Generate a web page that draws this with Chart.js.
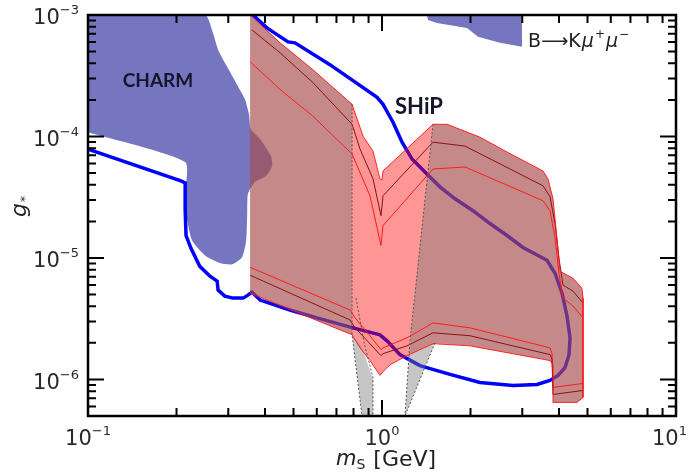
<!DOCTYPE html>
<html>
<head>
<meta charset="utf-8">
<script src="https://cdn.jsdelivr.net/npm/chart.js@4.4.1/dist/chart.umd.min.js"></script>
<style>
  html, body { margin: 0; padding: 0; background: #fff; }
  canvas { display: block; }
</style>
</head>
<body>
<canvas id="reach" width="689" height="473"></canvas>
<script>
// axis ticks (decades), labelled as 10^exp
const xTicks = [0.1, 1, 10];
const xTickExp = ['−1', '0', '1'];
const yTicks = [1e-6, 1e-5, 1e-4, 1e-3];
const yTickExp = ['−6', '−5', '−4', '−3'];

// CHARM excluded region
const charmMass = [0.100, 0.250, 0.266, 0.277, 0.297, 0.321, 0.342, 0.353, 0.358, 0.385, 0.419, 0.423, 0.403, 0.370, 0.350, 0.348, 0.345, 0.334, 0.309, 0.283, 0.250, 0.226, 0.217, 0.214, 0.214, 0.100];
const charmG = [1.0e-3, 1.0e-3, 7.13e-4, 5.18e-4, 3.76e-4, 2.68e-4, 2.02e-4, 1.52e-4, 1.15e-4, 9.5e-5, 6.9e-5, 5.72e-5, 4.73e-5, 4.23e-5, 3.37e-5, 2.32e-5, 1.37e-5, 1.01e-5, 8.87e-6, 9.04e-6, 1.05e-5, 1.39e-5, 2.11e-5, 3.37e-5, 6.16e-5, 1.084e-4];

// B -> K mu mu excluded region
const bkMass = [1.422, 1.434, 1.538, 1.946, 2.121, 2.520, 2.994, 2.994];
const bkG = [1.0e-3, 9.1e-4, 8.6e-4, 7.83e-4, 6.61e-4, 5.9e-4, 5.47e-4, 1.0e-3];

// SHiP sensitivity contour
const shipMass = [0.100, 0.207, 0.214, 0.214, 0.2155, 0.224, 0.240, 0.260, 0.275, 0.277, 0.292, 0.311, 0.337, 0.350, 0.361, 0.385, 0.486, 0.601, 0.797, 0.984, 1.040, 1.151, 1.346, 1.703, 2.154, 2.790, 3.367, 3.728, 3.968, 4.193, 4.325, 4.361, 4.258, 4.096, 3.877, 3.641, 3.017, 2.662, 2.330, 2.039, 1.771, 1.574, 1.422, 1.265, 1.170, 1.090, 1.008, 0.962, 0.665, 0.506, 0.479, 0.406, 0.364];
const shipG = [7.87e-5, 4.31e-5, 4.15e-5, 2.54e-5, 1.53e-5, 1.20e-5, 8.53e-6, 7.07e-6, 6.44e-6, 5.43e-6, 4.85e-6, 4.67e-6, 4.67e-6, 4.94e-6, 5.24e-6, 4.50e-6, 3.73e-6, 3.21e-6, 2.66e-6, 2.33e-6, 2.08e-6, 1.60e-6, 1.30e-6, 1.10e-6, 9.43e-7, 8.91e-7, 9.08e-7, 9.80e-7, 1.08e-6, 1.25e-6, 1.60e-6, 2.20e-6, 3.33e-6, 5.13e-6, 7.48e-6, 9.56e-6, 1.22e-5, 1.53e-5, 1.92e-5, 2.45e-5, 3.07e-5, 3.85e-5, 4.92e-5, 6.52e-5, 8.98e-5, 1.31e-4, 1.84e-4, 2.10e-4, 3.90e-4, 5.90e-4, 6.01e-4, 7.83e-4, 1.0e-3];

// uncertainty band: outer edges
const topEdgeMass = [0.356, 0.450, 0.582, 0.791, 0.862, 0.932, 0.984, 1.000, 1.008, 1.491, 1.664, 2.154, 2.662, 3.528, 3.670, 3.816, 3.937, 4.031, 4.464, 4.786, 4.828, 4.828, 4.603, 3.816, 3.816];
const topEdgeG = [1.0e-3, 5.9e-4, 3.55e-4, 1.84e-4, 1.006e-4, 7.58e-5, 4.48e-5, 4.40e-5, 5.20e-5, 1.26e-4, 1.26e-4, 9.87e-5, 7.45e-5, 5.20e-5, 4.48e-5, 3.07e-5, 1.45e-5, 7.77e-6, 6.81e-6, 5.64e-6, 4.67e-6, 7.11e-7, 6.47e-7, 6.47e-7, 1.32e-6];
const lowEdgeMass = [0.356, 0.791, 0.842, 0.910, 0.984, 1.008, 1.065, 1.216, 1.491, 1.992, 3.728, 3.816];
const lowEdgeG = [5.13e-6, 2.33e-6, 1.82e-6, 1.43e-6, 1.08e-6, 1.16e-6, 1.32e-6, 1.57e-6, 1.97e-6, 1.89e-6, 1.43e-6, 1.32e-6];

// band: central and inner curves
const topMidMass = [0.361, 0.450, 0.582, 0.791, 0.842, 0.932, 0.992, 1.008, 1.491, 1.916, 3.528, 3.728, 3.877, 4.0, 4.127, 4.464, 4.828];
const topMidG = [7.54e-4, 4.89e-4, 2.78e-4, 1.26e-4, 7.87e-5, 4.48e-5, 2.23e-5, 3.25e-5, 8.98e-5, 8.33e-5, 3.93e-5, 3.19e-5, 1.92e-5, 9.93e-6, 5.97e-6, 5.33e-6, 4.26e-6];
const topInnerMass = [0.356, 0.450, 0.582, 0.791, 0.910, 0.992, 1.008, 1.491, 1.916, 3.528, 3.728, 3.877, 4.0, 4.127, 4.464, 4.828];
const topInnerG = [4.13e-4, 2.44e-4, 1.47e-4, 7.17e-5, 3.25e-5, 1.27e-5, 1.85e-5, 5.40e-5, 5.61e-5, 2.96e-5, 2.45e-5, 1.45e-5, 7.48e-6, 4.67e-6, 4.02e-6, 3.21e-6];
const lowInnerMass = [0.356, 0.778, 0.810, 0.910, 0.992, 1.008, 1.216, 1.491, 1.992, 3.728, 3.786, 3.816, 4.828];
const lowInnerG = [8.38e-6, 3.73e-6, 3.21e-6, 2.29e-6, 1.76e-6, 1.82e-6, 2.20e-6, 2.92e-6, 2.66e-6, 1.82e-6, 1.63e-6, 8.59e-7, 9.26e-7];
const lowMidMass = [0.356, 0.778, 0.810, 0.992, 1.008, 1.216, 1.491, 1.992, 3.728, 3.786, 3.816, 4.828];
const lowMidG = [7.21e-6, 3.09e-6, 2.66e-6, 1.57e-6, 1.63e-6, 1.89e-6, 2.42e-6, 2.29e-6, 1.60e-6, 1.46e-6, 7.52e-7, 8.11e-7];

// grey shaded regions
const gray1Mass = [0.356, 0.450, 0.582, 0.791, 0.791, 0.855, 0.932, 0.932, 0.855, 0.791, 0.356];
const gray1G = [1.0e-3, 5.9e-4, 3.55e-4, 1.84e-4, 2.33e-6, 5.0e-7, 5.0e-7, 1.0e-6, 1.82e-6, 2.33e-6, 5.13e-6];
const gray2Mass = [1.491, 1.664, 2.154, 2.662, 3.528, 3.670, 3.816, 3.937, 4.031, 4.464, 4.786, 4.828, 4.828, 4.603, 3.816, 3.816, 3.728, 1.992, 1.514, 1.197, 1.245];
const gray2G = [1.26e-4, 1.26e-4, 9.87e-5, 7.45e-5, 5.2e-5, 4.48e-5, 3.07e-5, 1.45e-5, 7.77e-6, 6.81e-6, 5.64e-6, 4.67e-6, 7.11e-7, 6.47e-7, 6.47e-7, 1.32e-6, 1.43e-6, 1.89e-6, 2.0e-6, 5.0e-7, 2.08e-6];

// dotted boundaries of the grey regions
const dot1Mass = [0.791, 0.791, 0.855];
const dot1G = [1.84e-4, 2.33e-6, 5e-7];
const dot2Mass = [0.816, 0.869, 0.932, 0.932];
const dot2G = [4.67e-6, 2.0e-6, 1.036e-6, 5e-7];
const dot3Mass = [1.491, 1.245, 1.197];
const dot3G = [1.26e-4, 2.08e-6, 5e-7];
const dot4Mass = [1.514, 1.197];
const dot4G = [2.0e-6, 5e-7];

const notes = [
    { text: 'CHARM', mass: 0.173, g: 2.88e-4, font: 'bold 19px Lato' },
    { text: 'SHiP', mass: 1.336, g: 1.74e-4, font: 'bold 22px Lato' }
];

const FONT = '"DejaVu Sans"';

const pts = (ms, gs) => ms.map((m, i) => ({ x: m, y: gs[i] }));

function area(data, color, order, tension = 0) {
    return { data, fill: 'shape', backgroundColor: color, borderWidth: 0, pointRadius: 0, tension, order };
}

function curve(data, color, width, order, dash = []) {
    return { data, fill: false, borderColor: color, borderWidth: width, borderDash: dash, pointRadius: 0, tension: 0, order };
}

const bandOutline = pts(topEdgeMass, topEdgeG).concat(pts(lowEdgeMass, lowEdgeG).reverse());

const xMinor = [], yMinor = [];
for (let e = -1; e <= 0; e++) for (let k = 2; k <= 9; k++) xMinor.push(k * Math.pow(10, e));
for (let e = -7; e <= -4; e++) for (let k = 2; k <= 9; k++) {
    const v = k * Math.pow(10, e);
    if (v >= 5e-7) yMinor.push(v);
}

// "10" with a raised exponent; anchor is 'center' or 'right'
function powerLabel(ctx, exp, px, py, anchor, maxRight) {
    ctx.font = `21px ${FONT}`;
    const wBase = ctx.measureText('10').width;
    ctx.font = `13px ${FONT}`;
    const wExp = ctx.measureText(exp).width;
    let x0 = anchor === 'right' ? px - wBase - wExp : px - (wBase + wExp) / 2;
    if (maxRight) x0 = Math.min(x0, maxRight - wBase - wExp);
    ctx.textAlign = 'left';
    ctx.textBaseline = 'middle';
    ctx.font = `21px ${FONT}`;
    ctx.fillText('10', x0, py);
    ctx.font = `13px ${FONT}`;
    ctx.fillText(exp, x0 + wBase, py - 8);
}

const decor = {
    id: 'decor',
    afterDraw(chart) {
        const { ctx, chartArea: a, scales: { x, y } } = chart;
        ctx.save();

        // inward tick marks on all four sides
        ctx.strokeStyle = '#000';
        ctx.lineWidth = 2;
        ctx.beginPath();
        xTicks.concat(xMinor).forEach(v => {
            const p = x.getPixelForValue(v);
            const len = xTicks.includes(v) ? 16 : 8;
            ctx.moveTo(p, a.bottom); ctx.lineTo(p, a.bottom - len);
            ctx.moveTo(p, a.top); ctx.lineTo(p, a.top + len);
        });
        yTicks.concat(yMinor).forEach(v => {
            const p = y.getPixelForValue(v);
            const len = yTicks.includes(v) ? 16 : 8;
            ctx.moveTo(a.left, p); ctx.lineTo(a.left + len, p);
            ctx.moveTo(a.right, p); ctx.lineTo(a.right - len, p);
        });
        ctx.stroke();
        ctx.lineWidth = 2.5;
        ctx.strokeRect(a.left, a.top, a.right - a.left, a.bottom - a.top);

        // tick labels
        ctx.fillStyle = '#2a2a2a';
        xTicks.forEach((v, i) => powerLabel(ctx, xTickExp[i], x.getPixelForValue(v), a.bottom + 24, 'center', chart.width - 2));
        yTicks.forEach((v, i) => powerLabel(ctx, yTickExp[i], a.left - 9, y.getPixelForValue(v) + 4, 'right'));

        // region labels
        ctx.fillStyle = '#15152a';
        ctx.textAlign = 'center';
        ctx.textBaseline = 'middle';
        notes.forEach(n => {
            ctx.font = n.font;
            ctx.fillText(n.text, x.getPixelForValue(n.mass), y.getPixelForValue(n.g));
        });

        // B -> K mu+ mu-
        ctx.fillStyle = '#222';
        ctx.textAlign = 'left';
        let px = x.getPixelForValue(3.14);
        const py = y.getPixelForValue(6.0e-4);
        const pieces = [
            ['B⟶K', `19px ${FONT}`, 0],
            ['μ', `italic 19px ${FONT}`, 0],
            ['+', `12px ${FONT}`, -7],
            ['μ', `italic 19px ${FONT}`, 0],
            ['−', `12px ${FONT}`, -7]
        ];
        pieces.forEach(([t, f, dy]) => {
            ctx.font = f;
            ctx.fillText(t, px, py + dy);
            px += ctx.measureText(t).width + 1;
        });

        // axis titles
        ctx.fillStyle = '#222';
        let tx = (a.left + a.right) / 2 - 46;
        const ty = 460;
        ctx.font = `italic 21px ${FONT}`;
        ctx.fillText('m', tx, ty);
        tx += ctx.measureText('m').width;
        ctx.font = `14px ${FONT}`;
        ctx.fillText('S', tx, ty + 5);
        tx += ctx.measureText('S').width + 8;
        ctx.font = `22px ${FONT}`;
        ctx.fillText('[GeV]', tx, ty);

        ctx.translate(20, 207);
        ctx.rotate(-Math.PI / 2);
        ctx.textAlign = 'center';
        ctx.font = `italic 22px ${FONT}`;
        ctx.fillText('g', -3, 0);
        ctx.font = `13px ${FONT}`;
        ctx.fillText('*', 8, 6);
        ctx.restore();
    }
};

new Chart(document.getElementById('reach'), {
    type: 'line',
    data: {
        datasets: [
            area(pts(charmMass, charmG), '#7676c0', 10, 0.2),
            area(pts(bkMass, bkG), '#7676c0', 10),
            curve(pts(shipMass, shipG), '#0000ff', 3.5, 9),
            area(bandOutline, 'rgba(255, 0, 0, 0.41)', 8),
            area(pts(gray1Mass, gray1G), 'rgba(119, 119, 119, 0.42)', 7),
            area(pts(gray2Mass, gray2G), 'rgba(119, 119, 119, 0.42)', 7),
            curve(bandOutline, 'rgba(255, 20, 20, 0.9)', 1, 6),
            curve(pts(topMidMass, topMidG), '#8b1010', 1, 6),
            curve(pts(lowMidMass, lowMidG), '#8b1010', 1, 6),
            curve(pts(topInnerMass, topInnerG), '#ff1a1a', 1, 6),
            curve(pts(lowInnerMass, lowInnerG), '#ff1a1a', 1, 6),
            curve(pts(dot1Mass, dot1G), '#555', 1, 5, [2, 2]),
            curve(pts(dot2Mass, dot2G), '#555', 1, 5, [2, 2]),
            curve(pts(dot3Mass, dot3G), '#555', 1, 5, [2, 2]),
            curve(pts(dot4Mass, dot4G), '#555', 1, 5, [2, 2])
        ]
    },
    options: {
        responsive: false,
        animation: false,
        events: [],
        layout: { padding: { top: 15, right: 13, left: 0, bottom: 0 } },
        plugins: { legend: { display: false }, tooltip: { enabled: false } },
        scales: {
            x: {
                type: 'logarithmic',
                min: 0.1,
                max: 10,
                grid: { display: false },
                border: { display: false },
                ticks: { display: false },
                afterBuildTicks: s => { s.ticks = xTicks.map(v => ({ value: v })); },
                afterFit: s => { s.height = 57; s.paddingLeft = 0; s.paddingRight = 0; }
            },
            y: {
                type: 'logarithmic',
                min: 5e-7,
                max: 1e-3,
                grid: { display: false },
                border: { display: false },
                ticks: { display: false },
                afterBuildTicks: s => { s.ticks = yTicks.map(v => ({ value: v })); },
                afterFit: s => { s.width = 88; s.paddingTop = 0; s.paddingBottom = 0; }
            }
        }
    },
    plugins: [decor]
});
</script>
</body>
</html>
